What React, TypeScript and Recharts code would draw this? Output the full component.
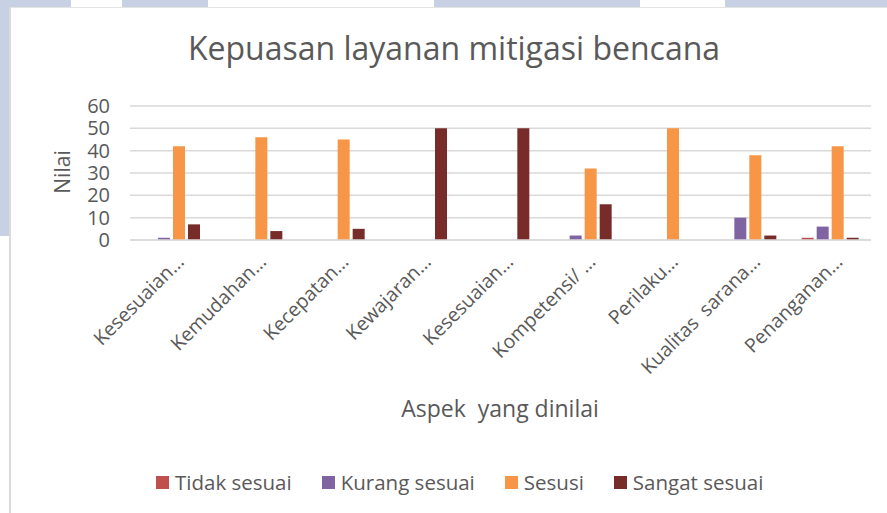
import React from 'react';
import { BarChart, Bar, XAxis, YAxis, CartesianGrid } from 'recharts';

const aspects = [
  'Kesesuaian…',
  'Kemudahan…',
  'Kecepatan…',
  'Kewajaran…',
  'Kesesuaian…',
  'Kompetensi/ …',
  'Perilaku…',
  'Kualitas  sarana…',
  'Penanganan…',
];
const tidakSesuai = [0, 0, 0, 0, 0, 0, 0, 0, 1];
const kurangSesuai = [1, 0, 0, 0, 0, 2, 0, 10, 6];
const sesusi = [42, 46, 45, 0, 0, 32, 50, 38, 42];
const sangatSesuai = [7, 4, 5, 50, 50, 16, 0, 2, 1];
const yTicks = [0, 10, 20, 30, 40, 50, 60];

const series = [
  { key: 'tidak', name: 'Tidak sesuai', color: '#C0504D' },
  { key: 'kurang', name: 'Kurang sesuai', color: '#8064A2' },
  { key: 'sesusi', name: 'Sesusi', color: '#F79646' },
  { key: 'sangat', name: 'Sangat sesuai', color: '#772C2A' },
];

const data = aspects.map((name, i) => ({
  name,
  tidak: tidakSesuai[i],
  kurang: kurangSesuai[i],
  sesusi: sesusi[i],
  sangat: sangatSesuai[i],
}));

const FONT = '"Open Sans", sans-serif';
const TEXT = '#595959';
const GRID = '#D9D9D9';
const FRAME = '#C8D1E3';

const XTick = (props: any) => {
  const { x, y, payload } = props;
  const tx = x + 14;
  const ty = y + 15;
  return (
    <text
      x={tx}
      y={ty}
      transform={`rotate(-45, ${tx}, ${ty})`}
      textAnchor="end"
      fill={TEXT}
      fontSize={19.5}
      fontFamily={FONT}
      style={{ whiteSpace: 'pre' }}
    >
      {payload.value}
    </text>
  );
};

export default function App() {
  return (
    <div style={{ position: 'fixed', top: 0, left: 0, width: 887, height: 513, background: '#fff', overflow: 'hidden' }}>
      {/* page frame behind the chart */}
      <div style={{ position: 'absolute', top: 0, left: 0, width: 887, height: 7, background: FRAME }} />
      <div style={{ position: 'absolute', top: 0, left: 71, width: 51, height: 7, background: '#fff' }} />
      <div style={{ position: 'absolute', top: 0, left: 208, width: 226, height: 7, background: '#fff' }} />
      <div style={{ position: 'absolute', top: 0, left: 640, width: 85, height: 7, background: '#fff' }} />
      <div style={{ position: 'absolute', top: 7, left: 9, width: 878, height: 1, background: '#E4E4E4' }} />
      <div style={{ position: 'absolute', top: 0, left: 0, width: 9, height: 236, background: FRAME }} />
      <div style={{ position: 'absolute', top: 7, left: 9, width: 1.5, height: 506, background: '#DADADA' }} />

      <div
        style={{
          position: 'absolute', top: 26, left: 0, width: 908, textAlign: 'center',
          fontFamily: FONT, fontSize: 32, color: TEXT, whiteSpace: 'nowrap',
        }}
      >
        Kepuasan layanan mitigasi bencana
      </div>
      <div
        style={{
          position: 'absolute', top: 172, left: 62, transform: 'translate(-50%, -50%) rotate(-90deg)',
          fontFamily: FONT, fontSize: 21, color: TEXT, whiteSpace: 'nowrap',
        }}
      >
        Nilai
      </div>
      <div
        style={{
          position: 'absolute', top: 392, left: 380, width: 240, textAlign: 'center',
          fontFamily: FONT, fontSize: 23, color: TEXT, whiteSpace: 'pre',
        }}
      >
        Aspek  yang dinilai
      </div>

      <div style={{ position: 'absolute', top: 0, left: 0 }}>
        <BarChart
          width={887}
          height={513}
          data={data}
          margin={{ top: 106, right: 16, bottom: 243, left: 60 }}
          barCategoryGap={13}
          barGap={3}
        >
          <CartesianGrid vertical={false} stroke={GRID} strokeWidth={1.5} />
          <XAxis
            dataKey="name"
            interval={0}
            tickLine={false}
            axisLine={{ stroke: GRID, strokeWidth: 1.5 }}
            tick={<XTick />}
            height={30}
          />
          <YAxis
            width={70}
            domain={[0, 60]}
            ticks={yTicks}
            interval={0}
            axisLine={false}
            tickLine={false}
            tickMargin={14}
            tick={{ fill: TEXT, fontSize: 20, fontFamily: FONT }}
          />
          {series.map((s) => (
            <Bar key={s.key} dataKey={s.key} name={s.name} fill={s.color} isAnimationActive={false} />
          ))}
        </BarChart>
      </div>

      <div
        style={{
          position: 'absolute', top: 468, left: 156, display: 'flex', alignItems: 'center',
          fontFamily: FONT, fontSize: 20.5, color: TEXT, whiteSpace: 'nowrap',
        }}
      >
        {series.map((s) => (
          <div key={s.key} style={{ display: 'flex', alignItems: 'center', marginRight: 30 }}>
            <span style={{ width: 13, height: 13, background: s.color, marginRight: 6, display: 'inline-block' }} />
            <span>{s.name}</span>
          </div>
        ))}
      </div>
    </div>
  );
}
